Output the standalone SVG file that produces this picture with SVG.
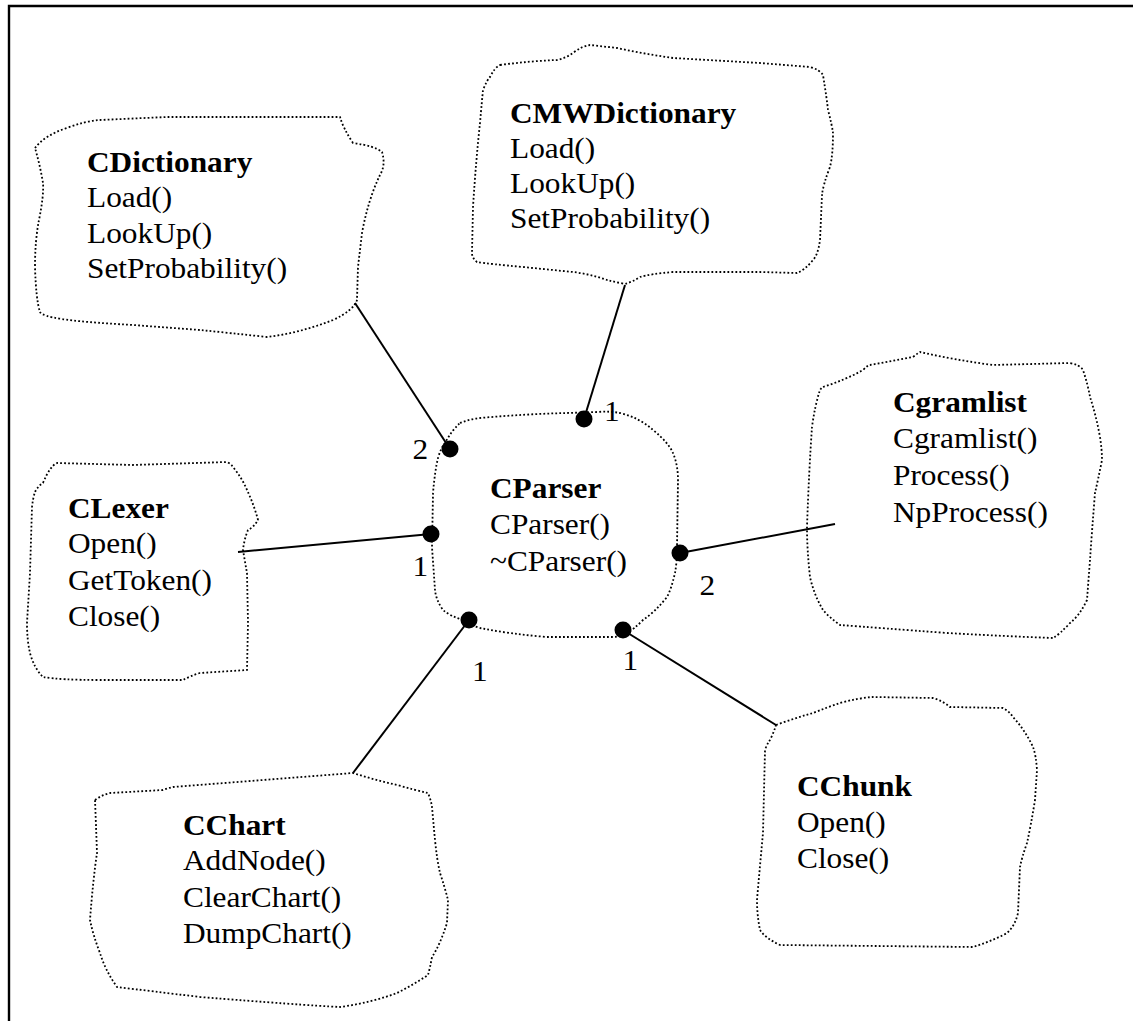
<svg xmlns="http://www.w3.org/2000/svg" width="1133" height="1021" viewBox="0 0 1133 1021">
  <style>
    .blob { fill: none; stroke: #000; stroke-width: 1.8; stroke-dasharray: 1.8 2.2; stroke-linejoin: round; }
    .link { stroke: #000; stroke-width: 2; fill: none; }
    .dot { fill: #000; }
    text { font-family: "Liberation Serif", "Times New Roman", serif; font-size: 28.5px; fill: #000; }
    .b { font-weight: bold; }
  </style>
  <rect width="1133" height="1021" fill="#fff"/>
  <!-- page frame (left and top edges) -->
  <path d="M9,1021 V6 H1133" fill="none" stroke="#000" stroke-width="2.4"/>

  <g id="connectors">
    <line class="link" x1="355" y1="303" x2="450" y2="449"/>
    <line class="link" x1="625" y1="285" x2="584" y2="419"/>
    <line class="link" x1="238" y1="552" x2="431" y2="534"/>
    <line class="link" x1="835" y1="524" x2="680" y2="553"/>
    <line class="link" x1="353" y1="773" x2="469" y2="620"/>
    <line class="link" x1="776" y1="725" x2="623" y2="630"/>
    <circle class="dot" cx="584" cy="419" r="8.5"/>
    <circle class="dot" cx="450" cy="449" r="8.5"/>
    <circle class="dot" cx="431" cy="534" r="8.5"/>
    <circle class="dot" cx="680" cy="553" r="8.5"/>
    <circle class="dot" cx="469" cy="620" r="8.5"/>
    <circle class="dot" cx="623" cy="630" r="8.5"/>
    <g transform="scale(1.1 1)">
      <text x="549" y="421">1</text>
      <text x="375" y="459">2</text>
      <text x="375" y="576">1</text>
      <text x="636" y="595">2</text>
      <text x="429" y="681">1</text>
      <text x="566" y="670">1</text>
    </g>
  </g>

  <g id="CDictionary">
    <path class="blob" d="M35,148 Q45,135 67,128 Q85,121 100,120 L167,117 L340,117 Q343,128 353,143 Q375,146 382,152 Q386,165 380,175 Q368,200 362,233 L358,267 L357,300 Q354,310 333,320 Q300,333 267,337 Q230,333 200,330 L133,325 Q80,322 62,319 Q42,316 40,312 Q36,300 35,267 Q35,240 39,220 Q44,195 43,183 Q40,165 35,148 Z"/>
    <g transform="translate(87 172) scale(1.1 1)">
      <text><tspan x="0" y="0" class="b">CDictionary</tspan><tspan x="0" y="35.5">Load()</tspan><tspan x="0" y="71">LookUp()</tspan><tspan x="0" y="106">SetProbability()</tspan></text>
    </g>
  </g>

  <g id="CMWDictionary">
    <path class="blob" d="M500,65 Q530,61 557,60 Q566,58 573,53 Q582,46 590,45 L617,48 Q645,54 673,58 L760,63 L810,67 Q820,70 823,75 Q827,100 828,110 Q832,125 833,133 Q833,155 830,167 Q823,185 822,195 L820,240 Q818,255 813,260 Q805,270 797,273 L760,272 L673,272 Q650,274 640,277 Q632,282 625,284 Q615,282 607,280 Q590,274 573,272 L523,267 Q490,264 477,262 Q472,258 472,253 L473,207 Q476,160 480,123 Q482,100 483,90 Q487,80 490,77 Q495,67 500,65 Z"/>
    <g transform="translate(510 123) scale(1.1 1)">
      <text><tspan x="0" y="0" class="b">CMWDictionary</tspan><tspan x="0" y="35">Load()</tspan><tspan x="0" y="70">LookUp()</tspan><tspan x="0" y="105">SetProbability()</tspan></text>
    </g>
  </g>

  <g id="CParser">
    <path class="blob" d="M460,423 Q470,419 480,418 Q525,414 567,413 L597,412 Q610,411 620,413 Q640,418 653,430 Q668,442 673,453 Q678,465 678,480 L677,547 Q677,562 675,573 Q671,590 667,597 Q655,612 643,620 Q633,630 627,633 Q620,637 613,637 L547,637 Q510,634 480,628 Q470,625 463,620 Q450,616 443,610 Q436,600 435,590 L432,547 L433,493 Q435,470 438,458 Q441,448 445,443 Q452,430 460,423 Z"/>
    <g transform="translate(490 498) scale(1.1 1)">
      <text><tspan x="0" y="0" class="b">CParser</tspan><tspan x="0" y="36">CParser()</tspan><tspan x="0" y="73">~CParser()</tspan></text>
    </g>
  </g>

  <g id="CLexer">
    <path class="blob" d="M43,483 Q50,466 57,463 L133,465 L227,462 Q231,464 233,467 Q242,478 247,490 Q254,505 258,520 Q254,527 248,530 Q244,540 243,550 Q245,562 247,573 L248,623 L247,670 L200,673 Q190,676 183,680 L100,680 Q60,680 43,677 Q34,668 30,653 Q27,640 27,623 L30,573 L32,507 Q33,498 35,492 Q38,486 43,483 Z"/>
    <g transform="translate(68 518) scale(1.1 1)">
      <text><tspan x="0" y="0" class="b">CLexer</tspan><tspan x="0" y="35.5">Open()</tspan><tspan x="0" y="72">GetToken()</tspan><tspan x="0" y="108">Close()</tspan></text>
    </g>
  </g>

  <g id="Cgramlist">
    <path class="blob" d="M823,387 Q845,380 863,370 Q868,365 870,365 L913,357 Q918,353 920,352 Q955,360 993,365 L1070,363 Q1080,365 1083,370 Q1088,385 1090,397 Q1096,415 1100,437 Q1102,450 1102,460 Q1098,480 1095,493 Q1092,530 1090,560 L1087,600 Q1080,615 1070,623 Q1060,634 1053,638 Q1000,636 947,633 Q880,628 840,625 Q830,618 823,610 Q814,595 810,577 Q807,550 807,527 Q809,470 812,427 Q815,405 820,390 Q822,387 823,387 Z"/>
    <g transform="translate(893 412) scale(1.1 1)">
      <text><tspan x="0" y="0" class="b">Cgramlist</tspan><tspan x="0" y="36">Cgramlist()</tspan><tspan x="0" y="73">Process()</tspan><tspan x="0" y="110">NpProcess()</tspan></text>
    </g>
  </g>

  <g id="CChart">
    <path class="blob" d="M95,800 Q102,795 110,793 L163,790 Q168,788 173,787 L353,773 Q375,780 397,785 Q415,790 428,793 Q431,800 432,807 L435,840 Q437,860 440,873 Q445,888 448,900 L447,923 Q440,945 432,957 Q430,968 428,975 Q413,985 397,993 Q370,1003 340,1007 Q300,1005 200,997 Q150,991 117,987 Q105,970 100,953 Q93,935 90,920 Q93,880 97,853 Q96,825 95,800 Z"/>
    <g transform="translate(183 835) scale(1.1 1)">
      <text><tspan x="0" y="0" class="b">CChart</tspan><tspan x="0" y="35.5">AddNode()</tspan><tspan x="0" y="72">ClearChart()</tspan><tspan x="0" y="108">DumpChart()</tspan></text>
    </g>
  </g>

  <g id="CChunk">
    <path class="blob" d="M776,725 Q795,718 813,713 Q828,707 840,703 Q858,698 873,697 L933,698 Q943,701 950,707 L1003,708 Q1009,711 1013,717 Q1025,730 1033,747 Q1036,755 1037,770 L1035,800 Q1031,825 1027,843 Q1022,857 1020,867 L1018,913 Q1015,926 1007,933 Q990,942 973,947 L780,945 Q765,938 760,930 Q757,915 757,900 Q760,865 763,833 L765,750 Q767,744 770,740 Q774,732 776,725 Z"/>
    <g transform="translate(797 796) scale(1.1 1)">
      <text><tspan x="0" y="0" class="b">CChunk</tspan><tspan x="0" y="36">Open()</tspan><tspan x="0" y="72">Close()</tspan></text>
    </g>
  </g>
</svg>
